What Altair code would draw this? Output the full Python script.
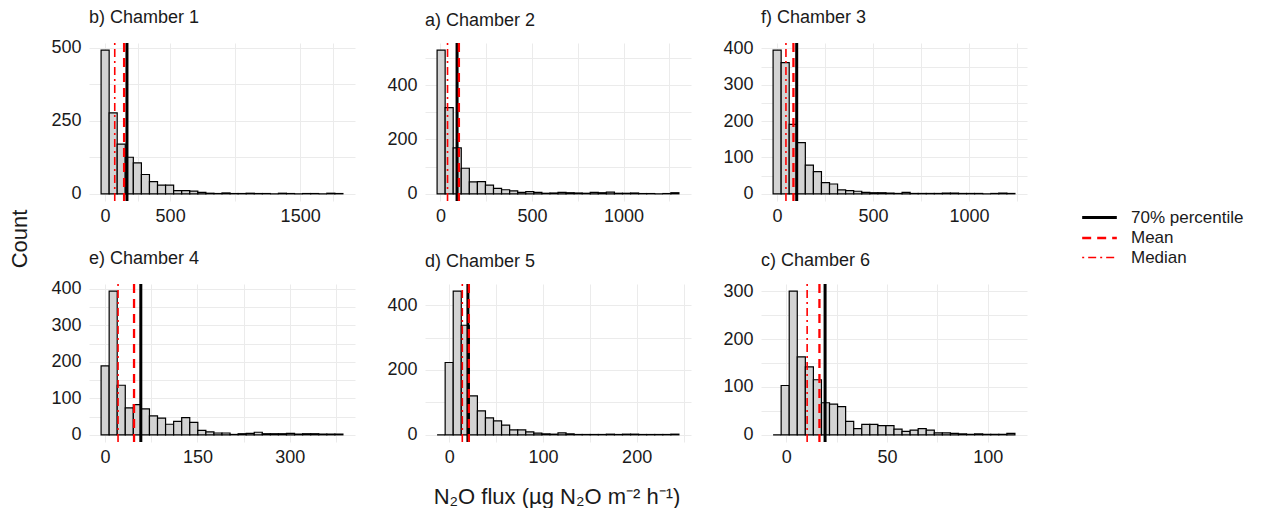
import altair as alt
import pandas as pd

FONT = "Liberation Sans"
FS = 18          # tick labels, panel titles, legend
FS_T = 22        # axis titles

# ---- data ----
chambers = ["b) Chamber 1", "a) Chamber 2", "f) Chamber 3",
            "e) Chamber 4", "d) Chamber 5", "c) Chamber 6"]
bin_width = [62, 44, 42, 13.1, 8.6, 4.0]
first_center = [0, 4, 0, 0, -8.6, -4.5]

counts_c1 = [491, 277, 170, 125, 106, 66, 42, 30, 30, 11, 11, 9, 5, 2, 1,
             3, 1, 1, 2, 1, 1, 0, 2, 1, 0, 1, 1, 0, 2, 1]
counts_c2 = [528, 317, 169, 94, 44, 45, 32, 20, 15, 11, 5, 8, 5, 2, 3,
             5, 4, 3, 2, 5, 4, 6, 2, 2, 3, 1, 1, 0, 1, 4]
counts_c3 = [395, 361, 191, 141, 79, 61, 31, 27, 11, 9, 7, 4, 3, 3, 2,
             1, 4, 1, 1, 1, 1, 2, 2, 1, 1, 1, 0, 1, 2, 1]
counts_c4 = [189, 394, 136, 74, 83, 71, 52, 46, 29, 37, 47, 34, 12, 8, 5,
             5, 1, 3, 4, 7, 3, 3, 3, 4, 2, 3, 3, 2, 2, 2]
counts_c5 = [0, 223, 443, 338, 120, 74, 52, 43, 30, 15, 15, 9, 5, 3, 2,
             6, 3, 1, 1, 1, 1, 2, 1, 2, 2, 1, 1, 1, 1, 2]
counts_c6 = [0, 103, 300, 163, 142, 115, 67, 64, 59, 28, 13, 22, 22, 19, 19,
             12, 7, 10, 13, 10, 4, 4, 3, 2, 1, 2, 1, 1, 1, 3]
counts = [counts_c1, counts_c2, counts_c3, counts_c4, counts_c5, counts_c6]

stats = ["70% percentile", "Mean", "Median"]
p70 = [168, 91, 102, 58, 20, 19.3]
means = [146, 101, 85, 47, 21, 16.5]
medians = [74, 39, 46, 21, 14, 10.4]

x_grid = [[0, 250, 500, 1000, 1500, 1750], [0, 250, 500, 750, 1000, 1250],
          [0, 250, 500, 750, 1000, 1250], [0, 75, 150, 225, 300, 375],
          [0, 50, 100, 150, 200, 250], [0, 25, 50, 75, 100]]
x_labels = [[0, 500, 1500], [0, 500, 1000], [0, 500, 1000],
            [0, 150, 300], [0, 100, 200], [0, 50, 100]]
y_grid = [[0, 125, 250, 375, 500], [0, 100, 200, 300, 400, 500],
          [0, 50, 100, 150, 200, 250, 300, 350, 400],
          [0, 50, 100, 150, 200, 250, 300, 350, 400],
          [0, 100, 200, 300, 400], [0, 50, 100, 150, 200, 250, 300]]
y_labels = [[0, 250, 500], [0, 200, 400], [0, 100, 200, 300, 400],
            [0, 100, 200, 300, 400], [0, 200, 400], [0, 100, 200, 300]]

X_TITLE = "N\u2082O flux (\u00b5g N\u2082O m\u207b\u00b2 h\u207b\u00b9)"
Y_TITLE = "Count"

# ---- layout ----
W, H = 266, 158
E = 38          # y-axis extent
S = 31          # spacing between panels
TXT = "#1a1a1a"


def axis(values, labels, **kw):
    expr = "indexof(%s, datum.value) >= 0 ? datum.label : ''" % str(labels)
    return alt.Axis(values=values, labelExpr=expr, format="d", title=None,
                    grid=True, gridColor="#EBEBEB", gridWidth=1, ticks=False,
                    domain=False, labelFontSize=FS, labelFont=FONT,
                    labelColor=TXT, **kw)


# wide, flat line symbol: unit path scaled by sqrt(size)/2
legend = alt.Legend(title=None, orient="none", legendX=1081, legendY=164,
                    symbolType="M-2,0H2", symbolSize=300, labelFontSize=17,
                    labelFont=FONT, labelColor=TXT, rowPadding=2,
                    labelOffset=21, padding=0)


def panel(i):
    n = len(counts[i])
    w = bin_width[i]
    lo = [first_center[i] + k * w - w / 2 for k in range(n)]
    hi = [v + w for v in lo]
    bars_df = pd.DataFrame({"lo": lo, "hi": hi, "count": counts[i]})
    span = hi[-1] - lo[0]
    xdom = [lo[0] - 0.05 * span, hi[-1] + 0.05 * span]
    ymax = max(counts[i])
    ydom = [-0.05 * ymax, 1.05 * ymax]
    xs = alt.Scale(domain=xdom, nice=False, zero=False)
    ys = alt.Scale(domain=ydom, nice=False, zero=False)
    xa = axis(x_grid[i], x_labels[i], labelPadding=6)
    ya = axis(y_grid[i], y_labels[i], labelPadding=8, minExtent=E, maxExtent=E)

    bars = alt.Chart(bars_df).mark_rect(
        fill="#D3D3D3", stroke="black", strokeWidth=1.2
    ).encode(
        x=alt.X("lo:Q", scale=xs, axis=xa),
        x2="hi:Q",
        y=alt.Y("count:Q", scale=ys, axis=ya),
        y2=alt.datum(0),
    )
    lines_df = pd.DataFrame({"stat": stats,
                             "value": [p70[i], means[i], medians[i]]})
    rules = alt.Chart(lines_df).mark_rule().encode(
        x=alt.X("value:Q", scale=xs, axis=xa),
        color=alt.Color("stat:N", scale=alt.Scale(domain=stats, range=["black", "red", "red"]), legend=legend),
        strokeDash=alt.StrokeDash("stat:N", scale=alt.Scale(domain=stats, range=[[1, 0], [9, 6], [2, 4, 8, 4]]), legend=legend),
        strokeWidth=alt.StrokeWidth("stat:N", scale=alt.Scale(domain=stats, range=[3, 1.6, 1.6]), legend=legend),
    )
    return alt.layer(bars, rules).properties(
        width=W, height=H,
        title=alt.TitleParams(chambers[i], anchor="start", frame="group",
                              fontSize=FS, font=FONT, fontWeight="normal",
                              color=TXT, offset=12),
    )


panels = [panel(i) for i in range(6)]
row1 = alt.hconcat(*panels[:3], spacing=S).resolve_scale(x="independent", y="independent")
row2 = alt.hconcat(*panels[3:], spacing=S).resolve_scale(x="independent", y="independent")
rows = alt.vconcat(row1, row2, spacing=24).resolve_scale(x="independent", y="independent")

GRID_W = 3 * W + 2 * (S + E)
xtitle = alt.Chart(pd.DataFrame({"t": [X_TITLE]})).mark_text(
    fontSize=FS_T, font=FONT, color=TXT
).encode(text="t:N", x=alt.value(468), y=alt.value(10)).properties(width=GRID_W, height=20)

grid = alt.vconcat(rows, xtitle, spacing=20).resolve_scale(x="independent", y="independent")

count_lbl = alt.Chart(pd.DataFrame({"t": [Y_TITLE]})).mark_text(
    fontSize=FS_T, font=FONT, color=TXT, angle=270, baseline="middle", align="center"
).encode(text="t:N", x=alt.value(12), y=alt.value(196)).properties(width=28, height=400)

chart = alt.hconcat(count_lbl, grid, spacing=14).resolve_scale(
    x="independent", y="independent",
    color="shared", strokeDash="shared", strokeWidth="shared"
).properties(padding=0).configure(
    background="white",
    view=alt.ViewConfig(stroke="transparent", strokeWidth=0),
)

chart.save("out.html", embed_options={"renderer": "svg", "actions": False})
